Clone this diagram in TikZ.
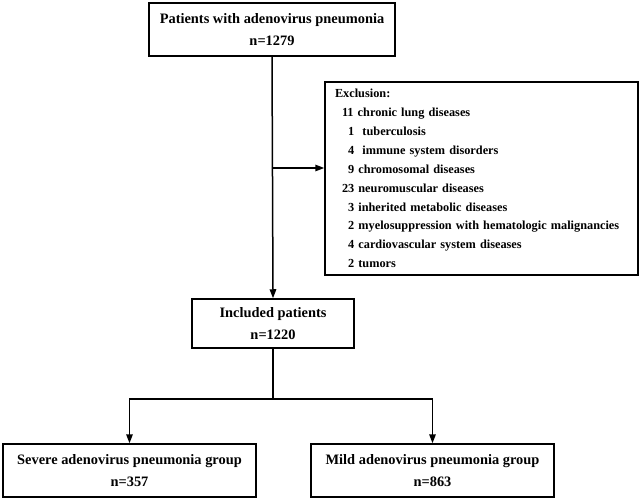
\documentclass[tikz,border=0pt]{standalone}
\usepackage{fontspec}
\setmainfont{Liberation Serif}
\usetikzlibrary{arrows.meta}

\begin{document}
\begin{tikzpicture}[x=1pt, y=-1pt,
    box/.style={draw, line width=1.5pt, align=center, inner sep=0pt,
        font=\bfseries\fontsize{14.4}{22}\selectfont},
    arr/.style={line width=1.5pt, -{Triangle[length=9pt,width=6.5pt]}},
    ln/.style={line width=1.5pt}]
    \useasboundingbox (0,0) rectangle (642,502);
    \node[box, minimum width=246, minimum height=53] (total) at (272,29.5)
        {Patients with adenovirus pneumonia\\n=1279};
    \node[box, minimum width=313, minimum height=193, text width=293, inner xsep=10pt,
        align=left, font=\bfseries\fontsize{12.3}{18.9}\selectfont] (excl) at (481.5,178.5)
        {Exclusion:\\
         \hspace*{7pt}11 chronic lung diseases\\
         \hspace*{7pt}\hphantom{1}1\ \ tuberculosis\\
         \hspace*{7pt}\hphantom{1}4\ \ immune system disorders\\
         \hspace*{7pt}\hphantom{1}9 chromosomal diseases\\
         \hspace*{7pt}23 neuromuscular diseases\\
         \hspace*{7pt}\hphantom{1}3 inherited metabolic diseases\\
         \hspace*{7pt}\hphantom{1}2 myelosuppression with hematologic malignancies\\
         \hspace*{7pt}\hphantom{1}4 cardiovascular system diseases\\
         \hspace*{7pt}\hphantom{1}2 tumors};
    \node[box, minimum width=162, minimum height=49] (incl) at (273,323.5)
        {Included patients\\n=1220};
    \node[box, minimum width=253, minimum height=53] (severe) at (129.5,470.5)
        {Severe adenovirus pneumonia group\\n=357};
    \node[box, minimum width=243, minimum height=53] (mild) at (432.5,470.5)
        {Mild adenovirus pneumonia group\\n=863};
    % connectors
    \coordinate (split) at (273,168);
    \coordinate (fork) at (273,399);
    \draw[arr] (total.south) -- (incl.north);
    \draw[arr] (split) -- (split -| excl.west);
    \draw[ln] (incl.south) -- (fork);
    \draw[arr] (fork) -| (severe.north);
    \draw[arr] (fork) -| (mild.north);
\end{tikzpicture}
\end{document}
